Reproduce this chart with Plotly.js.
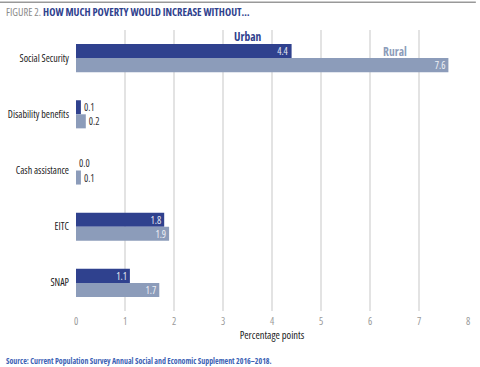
<!DOCTYPE html>
<html><head><meta charset="utf-8">
<script src="https://cdn.plot.ly/plotly-3.0.1.min.js"></script>
<style>html,body{margin:0;padding:0;background:#fff}#c{width:480px;height:367px}
svg text{font-stretch:condensed !important}</style>
</head><body><div id="c"></div>
<script>
const categories = ["Social Security","Disability benefits","Cash assistance","EITC","SNAP"];
const urban = [4.4, 0.1, 0.0, 1.8, 1.1];
const rural = [7.6, 0.2, 0.1, 1.9, 1.7];
const xTicks = [0,1,2,3,4,5,6,7,8];

const F = "'Open Sans',sans-serif";
const pos = v => v >= 1 ? 'inside' : 'outside';
const fmt = v => v.toFixed(1);

const traces = [
  {type:'bar', orientation:'h', name:'Urban', y:categories, x:urban,
   marker:{color:'#2f418e'}, text:urban.map(fmt), textposition:urban.map(pos), textangle:0,
   insidetextanchor:'end', insidetextfont:{color:'#e6e9f2', size:10, family:F},
   outsidetextfont:{color:'#333', size:10, family:F}, cliponaxis:false, hoverinfo:'none'},
  {type:'bar', orientation:'h', name:'Rural', y:categories, x:rural,
   marker:{color:'#8c9cba'}, text:rural.map(fmt), textposition:rural.map(pos), textangle:0,
   insidetextanchor:'end', insidetextfont:{color:'#eef0f5', size:10, family:F},
   outsidetextfont:{color:'#333', size:10, family:F}, cliponaxis:false, hoverinfo:'none'}
];

const layout = {
  width:480, height:367, paper_bgcolor:'#fff', plot_bgcolor:'#fff',
  margin:{l:76, r:12, t:30, b:56},
  barmode:'group', bargap:0.5, bargroupgap:0, showlegend:false,
  uniformtext:{mode:'show', minsize:10},
  font:{family:F, size:10, color:'#333'},
  xaxis:{range:[0,8], tickvals:xTicks, ticktext:xTicks.map(String), showgrid:true,
    gridcolor:'#e3e3e3', gridwidth:1.5, zeroline:false, showline:false, ticks:'',
    ticklabelstandoff:3,
    tickfont:{size:10, color:'#999', family:F},
    title:{text:'Percentage points', font:{size:10.5, color:'#222', family:F}, standoff:3}},
  yaxis:{autorange:'reversed', showgrid:false, zeroline:false, showline:false, ticks:'',
    ticklabelstandoff:6, tickfont:{size:10, color:'#222', family:F}},
  shapes:[{type:'line', xref:'paper', yref:'paper', x0:-0.194, x1:1.02, y0:1.099, y1:1.099,
    line:{color:'#999', width:1.5}}],
  annotations:[
    {xref:'paper', yref:'paper', x:-0.184, y:1.063, xanchor:'left', yanchor:'middle', showarrow:false,
     text:"<span style='color:#8a8a8a'>FIGURE 2.</span> <b>HOW MUCH POVERTY WOULD INCREASE WITHOUT…</b>",
     font:{size:10.5, color:'#2f418e', family:F}},
    {xref:'x', yref:'y', x:3.5, y:0, yshift:22, xanchor:'center', yanchor:'middle', showarrow:false,
     text:'<b>Urban</b>', font:{size:11.5, color:'#2f418e', family:F}},
    {xref:'x', yref:'y', x:6.5, y:0, yshift:7, xanchor:'center', yanchor:'middle', showarrow:false,
     text:'<b>Rural</b>', font:{size:11.5, color:'#8c9cba', family:F}},
    {xref:'paper', yref:'paper', x:-0.184, y:-0.178, xanchor:'left', yanchor:'middle', showarrow:false,
     text:'<b>Source: Current Population Survey Annual Social and Economic Supplement 2016–2018.</b>',
     font:{size:7.9, color:'#3d63b5', family:F}}
  ]
};
Plotly.newPlot('c', traces, layout, {displayModeBar:false, staticPlot:true});
</script></body></html>
